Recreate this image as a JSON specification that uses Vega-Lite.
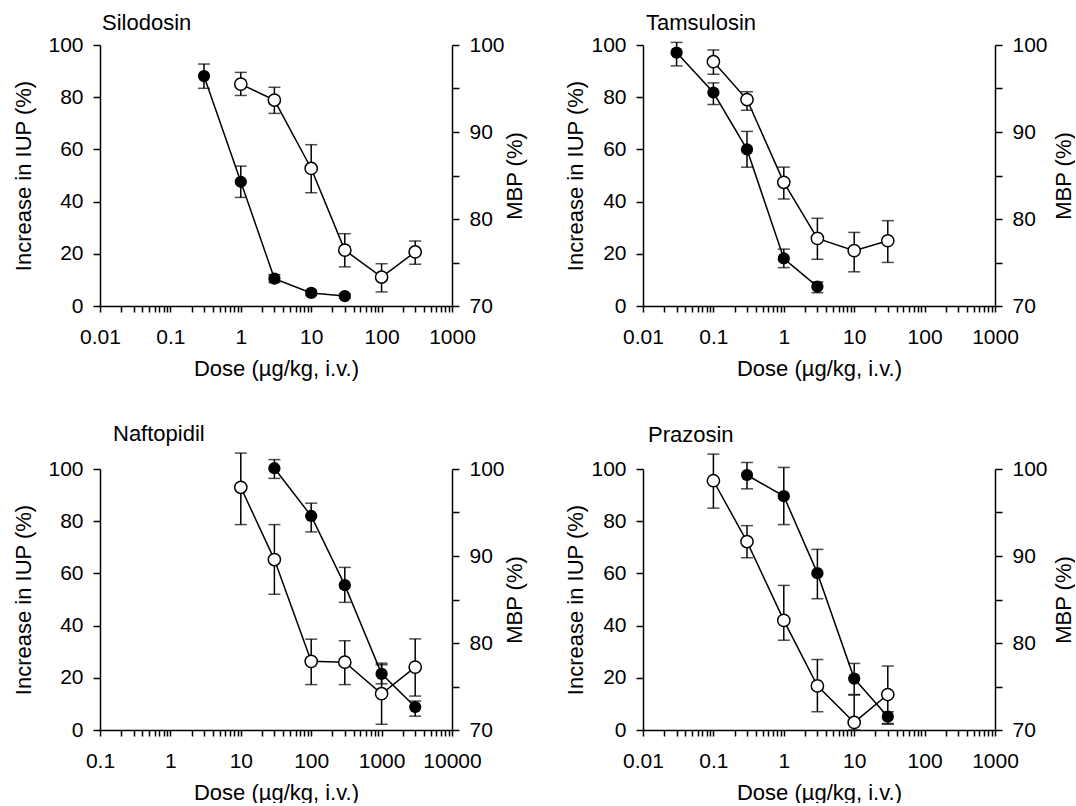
{
  "$schema": "https://vega.github.io/schema/vega-lite/v6.json",
  "background": "white",
  "padding": {"left": 12, "top": 12, "right": 0, "bottom": 0},
  "datasets": {
    "iup": [
      {"drug":"Silodosin","dose":0.3,"v":88.1,"lo":83.4,"hi":92.7},
      {"drug":"Silodosin","dose":1,"v":47.6,"lo":41.6,"hi":53.6},
      {"drug":"Silodosin","dose":3,"v":10.5,"lo":9,"hi":12},
      {"drug":"Silodosin","dose":10,"v":5.0,"lo":4,"hi":6},
      {"drug":"Silodosin","dose":30,"v":3.8,"lo":3,"hi":4.6},
      {"drug":"Tamsulosin","dose":0.03,"v":97.1,"lo":92.0,"hi":101.0},
      {"drug":"Tamsulosin","dose":0.1,"v":81.8,"lo":77.2,"hi":85.5},
      {"drug":"Tamsulosin","dose":0.3,"v":60.0,"lo":53.2,"hi":66.9},
      {"drug":"Tamsulosin","dose":1,"v":18.2,"lo":14.7,"hi":21.8},
      {"drug":"Tamsulosin","dose":3,"v":7.4,"lo":5.1,"hi":9.2},
      {"drug":"Naftopidil","dose":30,"v":100.3,"lo":96.4,"hi":103.6},
      {"drug":"Naftopidil","dose":100,"v":82.0,"lo":75.9,"hi":86.9},
      {"drug":"Naftopidil","dose":300,"v":55.5,"lo":48.9,"hi":62.3},
      {"drug":"Naftopidil","dose":1000,"v":21.5,"lo":17.7,"hi":25.0},
      {"drug":"Naftopidil","dose":3000,"v":8.8,"lo":5.3,"hi":11.1},
      {"drug":"Prazosin","dose":0.3,"v":97.7,"lo":92.4,"hi":102.5},
      {"drug":"Prazosin","dose":1,"v":89.6,"lo":78.7,"hi":100.6},
      {"drug":"Prazosin","dose":3,"v":60.1,"lo":50.3,"hi":69.2},
      {"drug":"Prazosin","dose":10,"v":19.7,"lo":13.6,"hi":25.5},
      {"drug":"Prazosin","dose":30,"v":5.1,"lo":2.2,"hi":7.0}
    ],
    "mbp": [
      {"drug":"Silodosin","dose":1,"v":95.5,"lo":94.2,"hi":96.85},
      {"drug":"Silodosin","dose":3,"v":93.67,"lo":92.14,"hi":95.14},
      {"drug":"Silodosin","dose":10,"v":85.81,"lo":83.02,"hi":88.54},
      {"drug":"Silodosin","dose":30,"v":76.42,"lo":74.5,"hi":78.31},
      {"drug":"Silodosin","dose":100,"v":73.33,"lo":71.62,"hi":74.86},
      {"drug":"Silodosin","dose":300,"v":76.21,"lo":74.8,"hi":77.47},
      {"drug":"Tamsulosin","dose":0.1,"v":98.08,"lo":96.64,"hi":99.43},
      {"drug":"Tamsulosin","dose":0.3,"v":93.73,"lo":92.5,"hi":94.63},
      {"drug":"Tamsulosin","dose":1,"v":84.22,"lo":82.3,"hi":85.96},
      {"drug":"Tamsulosin","dose":3,"v":77.77,"lo":75.37,"hi":80.08},
      {"drug":"Tamsulosin","dose":10,"v":76.36,"lo":73.93,"hi":78.46},
      {"drug":"Tamsulosin","dose":30,"v":77.5,"lo":75.01,"hi":79.81},
      {"drug":"Naftopidil","dose":10,"v":97.9,"lo":93.61,"hi":101.83},
      {"drug":"Naftopidil","dose":30,"v":89.59,"lo":85.6,"hi":93.61},
      {"drug":"Naftopidil","dose":100,"v":77.89,"lo":75.22,"hi":80.44},
      {"drug":"Naftopidil","dose":300,"v":77.8,"lo":75.22,"hi":80.26},
      {"drug":"Naftopidil","dose":1000,"v":74.17,"lo":70.66,"hi":77.68},
      {"drug":"Naftopidil","dose":3000,"v":77.23,"lo":73.9,"hi":80.47},
      {"drug":"Prazosin","dose":0.1,"v":98.65,"lo":95.5,"hi":101.71},
      {"drug":"Prazosin","dose":0.3,"v":91.66,"lo":89.8,"hi":93.49},
      {"drug":"Prazosin","dose":1,"v":82.6,"lo":80.32,"hi":86.62},
      {"drug":"Prazosin","dose":3,"v":75.07,"lo":72.1,"hi":78.1},
      {"drug":"Prazosin","dose":10,"v":70.87,"lo":70.0,"hi":74.02},
      {"drug":"Prazosin","dose":30,"v":74.08,"lo":70.75,"hi":77.35}
    ]
  },
  "vconcat": [
    {
      "hconcat": [
        {
          "title": {"text": "Silodosin", "anchor": "start", "frame": "group", "dx": 2, "offset": -1},
          "width": 352, "height": 261,
          "layer": [
            {
              "data": {"name": "iup"},
              "transform": [{"filter": "datum.drug == 'Silodosin'"}],
              "layer": [
                {"mark": {"type": "line", "color": "black", "strokeWidth": 1.5},
                 "encoding": {
                   "x": {"field": "dose", "type": "quantitative", "scale": {"type": "log", "domain": [0.01, 1000], "nice": false},
                         "axis": {"title": "Dose (µg/kg, i.v.)", "values": [0.01,0.02,0.03,0.04,0.05,0.06,0.07,0.08,0.09,0.1,0.2,0.3,0.4,0.5,0.6,0.7,0.8,0.9,1,2,3,4,5,6,7,8,9,10,20,30,40,50,60,70,80,90,100,200,300,400,500,600,700,800,900,1000],
                                  "labelExpr": "abs(log(datum.value)/LN10 - round(log(datum.value)/LN10)) < 0.001 ? '' + datum.value : ''"}},
                   "y": {"field": "v", "type": "quantitative", "scale": {"domain": [0, 100], "nice": false, "zero": false},
                         "axis": {"title": "Increase in IUP (%)", "orient": "left", "values": [0,10,20,30,40,50,60,70,80,90,100], "labelExpr": "datum.value % 20 == 0 ? datum.label : ''", "titlePadding": 12}}}},
                {"mark": {"type": "errorbar", "ticks": true, "size": 12, "thickness": 1.5, "color": "black"},
                 "encoding": {
                   "x": {"field": "dose", "type": "quantitative", "scale": {"type": "log", "domain": [0.01, 1000], "nice": false}},
                   "y": {"field": "lo", "type": "quantitative", "title": "Increase in IUP (%)", "scale": {"domain": [0, 100], "nice": false, "zero": false}},
                   "y2": {"field": "hi"}}},
                {"mark": {"type": "point", "filled": true, "color": "black", "size": 150, "opacity": 1},
                 "encoding": {
                   "x": {"field": "dose", "type": "quantitative", "scale": {"type": "log", "domain": [0.01, 1000], "nice": false}},
                   "y": {"field": "v", "type": "quantitative", "title": "Increase in IUP (%)", "scale": {"domain": [0, 100], "nice": false, "zero": false}}}}
              ]
            },
            {
              "data": {"name": "mbp"},
              "transform": [{"filter": "datum.drug == 'Silodosin'"}],
              "layer": [
                {"mark": {"type": "line", "color": "black", "strokeWidth": 1.5},
                 "encoding": {
                   "x": {"field": "dose", "type": "quantitative", "scale": {"type": "log", "domain": [0.01, 1000], "nice": false}},
                   "y": {"field": "v", "type": "quantitative", "scale": {"domain": [70, 100], "nice": false, "zero": false},
                         "axis": {"title": "MBP (%)", "orient": "right", "values": [70,75,80,85,90,95,100], "labelExpr": "datum.value % 10 == 0 ? datum.label : ''", "titleAngle": 270, "titleBaseline": "top", "titlePadding": 0}}}},
                {"mark": {"type": "errorbar", "ticks": true, "size": 12, "thickness": 1.5, "color": "black"},
                 "encoding": {
                   "x": {"field": "dose", "type": "quantitative", "scale": {"type": "log", "domain": [0.01, 1000], "nice": false}},
                   "y": {"field": "lo", "type": "quantitative", "title": "MBP (%)", "scale": {"domain": [70, 100], "nice": false, "zero": false}},
                   "y2": {"field": "hi"}}},
                {"mark": {"type": "point", "filled": true, "fill": "white", "stroke": "black", "strokeWidth": 1.5, "size": 150, "opacity": 1},
                 "encoding": {
                   "x": {"field": "dose", "type": "quantitative", "scale": {"type": "log", "domain": [0.01, 1000], "nice": false}},
                   "y": {"field": "v", "type": "quantitative", "title": "MBP (%)", "scale": {"domain": [70, 100], "nice": false, "zero": false}}}}
              ]
            }
          ],
          "resolve": {"scale": {"y": "independent"}, "axis": {"y": "independent"}}
        },
        {
          "title": {"text": "Tamsulosin", "anchor": "start", "frame": "group", "dx": 3, "offset": -1},
          "width": 352, "height": 261,
          "layer": [
            {
              "data": {"name": "iup"},
              "transform": [{"filter": "datum.drug == 'Tamsulosin'"}],
              "layer": [
                {"mark": {"type": "line", "color": "black", "strokeWidth": 1.5},
                 "encoding": {
                   "x": {"field": "dose", "type": "quantitative", "scale": {"type": "log", "domain": [0.01, 1000], "nice": false},
                         "axis": {"title": "Dose (µg/kg, i.v.)", "values": [0.01,0.02,0.03,0.04,0.05,0.06,0.07,0.08,0.09,0.1,0.2,0.3,0.4,0.5,0.6,0.7,0.8,0.9,1,2,3,4,5,6,7,8,9,10,20,30,40,50,60,70,80,90,100,200,300,400,500,600,700,800,900,1000],
                                  "labelExpr": "abs(log(datum.value)/LN10 - round(log(datum.value)/LN10)) < 0.001 ? '' + datum.value : ''"}},
                   "y": {"field": "v", "type": "quantitative", "scale": {"domain": [0, 100], "nice": false, "zero": false},
                         "axis": {"title": "Increase in IUP (%)", "orient": "left", "values": [0,10,20,30,40,50,60,70,80,90,100], "labelExpr": "datum.value % 20 == 0 ? datum.label : ''", "titlePadding": 3}}}},
                {"mark": {"type": "errorbar", "ticks": true, "size": 12, "thickness": 1.5, "color": "black"},
                 "encoding": {
                   "x": {"field": "dose", "type": "quantitative", "scale": {"type": "log", "domain": [0.01, 1000], "nice": false}},
                   "y": {"field": "lo", "type": "quantitative", "title": "Increase in IUP (%)", "scale": {"domain": [0, 100], "nice": false, "zero": false}},
                   "y2": {"field": "hi"}}},
                {"mark": {"type": "point", "filled": true, "color": "black", "size": 150, "opacity": 1},
                 "encoding": {
                   "x": {"field": "dose", "type": "quantitative", "scale": {"type": "log", "domain": [0.01, 1000], "nice": false}},
                   "y": {"field": "v", "type": "quantitative", "title": "Increase in IUP (%)", "scale": {"domain": [0, 100], "nice": false, "zero": false}}}}
              ]
            },
            {
              "data": {"name": "mbp"},
              "transform": [{"filter": "datum.drug == 'Tamsulosin'"}],
              "layer": [
                {"mark": {"type": "line", "color": "black", "strokeWidth": 1.5},
                 "encoding": {
                   "x": {"field": "dose", "type": "quantitative", "scale": {"type": "log", "domain": [0.01, 1000], "nice": false}},
                   "y": {"field": "v", "type": "quantitative", "scale": {"domain": [70, 100], "nice": false, "zero": false},
                         "axis": {"title": "MBP (%)", "orient": "right", "values": [70,75,80,85,90,95,100], "labelExpr": "datum.value % 10 == 0 ? datum.label : ''", "titleAngle": 270, "titleBaseline": "top", "titlePadding": 6}}}},
                {"mark": {"type": "errorbar", "ticks": true, "size": 12, "thickness": 1.5, "color": "black"},
                 "encoding": {
                   "x": {"field": "dose", "type": "quantitative", "scale": {"type": "log", "domain": [0.01, 1000], "nice": false}},
                   "y": {"field": "lo", "type": "quantitative", "title": "MBP (%)", "scale": {"domain": [70, 100], "nice": false, "zero": false}},
                   "y2": {"field": "hi"}}},
                {"mark": {"type": "point", "filled": true, "fill": "white", "stroke": "black", "strokeWidth": 1.5, "size": 150, "opacity": 1},
                 "encoding": {
                   "x": {"field": "dose", "type": "quantitative", "scale": {"type": "log", "domain": [0.01, 1000], "nice": false}},
                   "y": {"field": "v", "type": "quantitative", "title": "MBP (%)", "scale": {"domain": [70, 100], "nice": false, "zero": false}}}}
              ]
            }
          ],
          "resolve": {"scale": {"y": "independent"}, "axis": {"y": "independent"}}
        }
      ],
      "spacing": 38
    },
    {
      "hconcat": [
        {
          "title": {"text": "Naftopidil", "anchor": "start", "frame": "group", "dx": 13, "offset": 6},
          "width": 352, "height": 261,
          "layer": [
            {
              "data": {"name": "iup"},
              "transform": [{"filter": "datum.drug == 'Naftopidil'"}],
              "layer": [
                {"mark": {"type": "line", "color": "black", "strokeWidth": 1.5},
                 "encoding": {
                   "x": {"field": "dose", "type": "quantitative", "scale": {"type": "log", "domain": [0.1, 10000], "nice": false},
                         "axis": {"title": "Dose (µg/kg, i.v.)", "values": [0.1,0.2,0.3,0.4,0.5,0.6,0.7,0.8,0.9,1,2,3,4,5,6,7,8,9,10,20,30,40,50,60,70,80,90,100,200,300,400,500,600,700,800,900,1000,2000,3000,4000,5000,6000,7000,8000,9000,10000],
                                  "labelExpr": "abs(log(datum.value)/LN10 - round(log(datum.value)/LN10)) < 0.001 ? '' + datum.value : ''"}},
                   "y": {"field": "v", "type": "quantitative", "scale": {"domain": [0, 100], "nice": false, "zero": false},
                         "axis": {"title": "Increase in IUP (%)", "orient": "left", "values": [0,10,20,30,40,50,60,70,80,90,100], "labelExpr": "datum.value % 20 == 0 ? datum.label : ''", "titlePadding": 12}}}},
                {"mark": {"type": "errorbar", "ticks": true, "size": 12, "thickness": 1.5, "color": "black"},
                 "encoding": {
                   "x": {"field": "dose", "type": "quantitative", "scale": {"type": "log", "domain": [0.1, 10000], "nice": false}},
                   "y": {"field": "lo", "type": "quantitative", "title": "Increase in IUP (%)", "scale": {"domain": [0, 100], "nice": false, "zero": false}},
                   "y2": {"field": "hi"}}},
                {"mark": {"type": "point", "filled": true, "color": "black", "size": 150, "opacity": 1},
                 "encoding": {
                   "x": {"field": "dose", "type": "quantitative", "scale": {"type": "log", "domain": [0.1, 10000], "nice": false}},
                   "y": {"field": "v", "type": "quantitative", "title": "Increase in IUP (%)", "scale": {"domain": [0, 100], "nice": false, "zero": false}}}}
              ]
            },
            {
              "data": {"name": "mbp"},
              "transform": [{"filter": "datum.drug == 'Naftopidil'"}],
              "layer": [
                {"mark": {"type": "line", "color": "black", "strokeWidth": 1.5},
                 "encoding": {
                   "x": {"field": "dose", "type": "quantitative", "scale": {"type": "log", "domain": [0.1, 10000], "nice": false}},
                   "y": {"field": "v", "type": "quantitative", "scale": {"domain": [70, 100], "nice": false, "zero": false},
                         "axis": {"title": "MBP (%)", "orient": "right", "values": [70,75,80,85,90,95,100], "labelExpr": "datum.value % 10 == 0 ? datum.label : ''", "titleAngle": 270, "titleBaseline": "top", "titlePadding": 0}}}},
                {"mark": {"type": "errorbar", "ticks": true, "size": 12, "thickness": 1.5, "color": "black"},
                 "encoding": {
                   "x": {"field": "dose", "type": "quantitative", "scale": {"type": "log", "domain": [0.1, 10000], "nice": false}},
                   "y": {"field": "lo", "type": "quantitative", "title": "MBP (%)", "scale": {"domain": [70, 100], "nice": false, "zero": false}},
                   "y2": {"field": "hi"}}},
                {"mark": {"type": "point", "filled": true, "fill": "white", "stroke": "black", "strokeWidth": 1.5, "size": 150, "opacity": 1},
                 "encoding": {
                   "x": {"field": "dose", "type": "quantitative", "scale": {"type": "log", "domain": [0.1, 10000], "nice": false}},
                   "y": {"field": "v", "type": "quantitative", "title": "MBP (%)", "scale": {"domain": [70, 100], "nice": false, "zero": false}}}}
              ]
            }
          ],
          "resolve": {"scale": {"y": "independent"}, "axis": {"y": "independent"}}
        },
        {
          "title": {"text": "Prazosin", "anchor": "start", "frame": "group", "dx": 5, "offset": 6},
          "width": 352, "height": 261,
          "layer": [
            {
              "data": {"name": "iup"},
              "transform": [{"filter": "datum.drug == 'Prazosin'"}],
              "layer": [
                {"mark": {"type": "line", "color": "black", "strokeWidth": 1.5},
                 "encoding": {
                   "x": {"field": "dose", "type": "quantitative", "scale": {"type": "log", "domain": [0.01, 1000], "nice": false},
                         "axis": {"title": "Dose (µg/kg, i.v.)", "values": [0.01,0.02,0.03,0.04,0.05,0.06,0.07,0.08,0.09,0.1,0.2,0.3,0.4,0.5,0.6,0.7,0.8,0.9,1,2,3,4,5,6,7,8,9,10,20,30,40,50,60,70,80,90,100,200,300,400,500,600,700,800,900,1000],
                                  "labelExpr": "abs(log(datum.value)/LN10 - round(log(datum.value)/LN10)) < 0.001 ? '' + datum.value : ''"}},
                   "y": {"field": "v", "type": "quantitative", "scale": {"domain": [0, 100], "nice": false, "zero": false},
                         "axis": {"title": "Increase in IUP (%)", "orient": "left", "values": [0,10,20,30,40,50,60,70,80,90,100], "labelExpr": "datum.value % 20 == 0 ? datum.label : ''", "titlePadding": 3}}}},
                {"mark": {"type": "errorbar", "ticks": true, "size": 12, "thickness": 1.5, "color": "black"},
                 "encoding": {
                   "x": {"field": "dose", "type": "quantitative", "scale": {"type": "log", "domain": [0.01, 1000], "nice": false}},
                   "y": {"field": "lo", "type": "quantitative", "title": "Increase in IUP (%)", "scale": {"domain": [0, 100], "nice": false, "zero": false}},
                   "y2": {"field": "hi"}}},
                {"mark": {"type": "point", "filled": true, "color": "black", "size": 150, "opacity": 1},
                 "encoding": {
                   "x": {"field": "dose", "type": "quantitative", "scale": {"type": "log", "domain": [0.01, 1000], "nice": false}},
                   "y": {"field": "v", "type": "quantitative", "title": "Increase in IUP (%)", "scale": {"domain": [0, 100], "nice": false, "zero": false}}}}
              ]
            },
            {
              "data": {"name": "mbp"},
              "transform": [{"filter": "datum.drug == 'Prazosin'"}],
              "layer": [
                {"mark": {"type": "line", "color": "black", "strokeWidth": 1.5},
                 "encoding": {
                   "x": {"field": "dose", "type": "quantitative", "scale": {"type": "log", "domain": [0.01, 1000], "nice": false}},
                   "y": {"field": "v", "type": "quantitative", "scale": {"domain": [70, 100], "nice": false, "zero": false},
                         "axis": {"title": "MBP (%)", "orient": "right", "values": [70,75,80,85,90,95,100], "labelExpr": "datum.value % 10 == 0 ? datum.label : ''", "titleAngle": 270, "titleBaseline": "top", "titlePadding": 6}}}},
                {"mark": {"type": "errorbar", "ticks": true, "size": 12, "thickness": 1.5, "color": "black"},
                 "encoding": {
                   "x": {"field": "dose", "type": "quantitative", "scale": {"type": "log", "domain": [0.01, 1000], "nice": false}},
                   "y": {"field": "lo", "type": "quantitative", "title": "MBP (%)", "scale": {"domain": [70, 100], "nice": false, "zero": false}},
                   "y2": {"field": "hi"}}},
                {"mark": {"type": "point", "filled": true, "fill": "white", "stroke": "black", "strokeWidth": 1.5, "size": 150, "opacity": 1},
                 "encoding": {
                   "x": {"field": "dose", "type": "quantitative", "scale": {"type": "log", "domain": [0.01, 1000], "nice": false}},
                   "y": {"field": "v", "type": "quantitative", "title": "MBP (%)", "scale": {"domain": [70, 100], "nice": false, "zero": false}}}}
              ]
            }
          ],
          "resolve": {"scale": {"y": "independent"}, "axis": {"y": "independent"}}
        }
      ],
      "spacing": 38
    }
  ],
  "spacing": 44,
  "config": {
    "view": {"stroke": null},
    "font": "Liberation Sans",
    "title": {"font": "Liberation Sans", "fontSize": 22, "fontWeight": "normal", "color": "black"},
    "axis": {
      "labelFont": "Liberation Sans", "titleFont": "Liberation Sans",
      "labelFontSize": 21, "titleFontSize": 22, "titleFontWeight": "normal",
      "labelColor": "black", "titleColor": "black",
      "domainColor": "black", "tickColor": "black",
      "domainWidth": 1.5, "tickWidth": 1.5, "tickSize": 7,
      "grid": false, "labelPadding": 10, "labelFlush": false, "labelOverlap": false
    },
    "axisX": {"tickSize": 6, "labelPadding": 14, "titlePadding": 11}
  }
}
